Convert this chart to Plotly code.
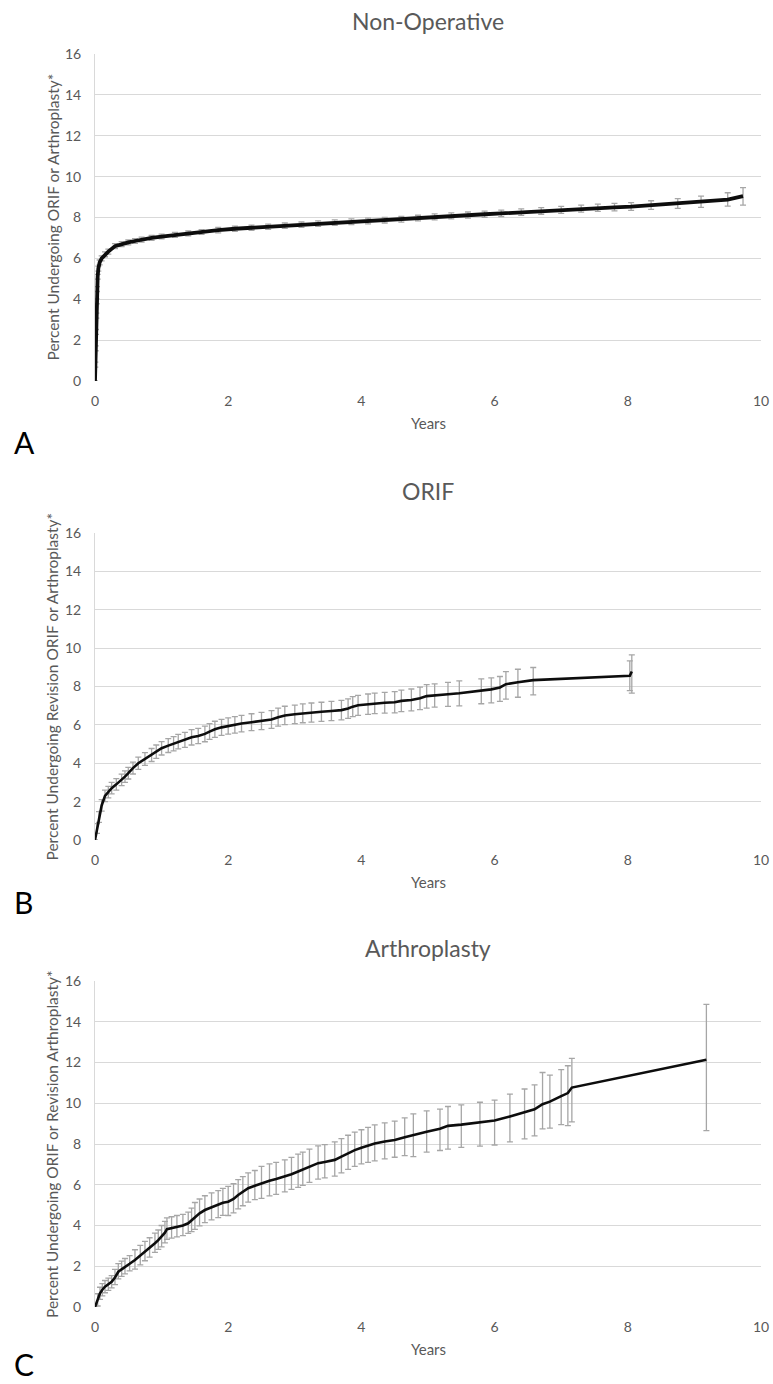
import plotly.graph_objects as go

# ---------------- Data ----------------
# Panel A: Non-Operative
a_years = [0.0, 0.005, 0.01, 0.015, 0.02, 0.025, 0.03, 0.04, 0.05, 0.07, 0.10, 0.15, 0.2, 0.3, 0.4,
           0.5, 0.6, 0.7, 0.85, 1.0, 1.2, 1.4, 1.6, 1.85, 2.1, 2.35, 2.6, 2.85, 3.1, 3.35, 3.6,
           3.85, 4.1, 4.35, 4.6, 4.85, 5.1, 5.35, 5.6, 5.85, 6.1, 6.4, 6.7, 7.0, 7.3, 7.55, 7.8,
           8.05, 8.35, 8.75, 9.1, 9.5, 9.73]
a_pct = [0.0, 0.8, 1.6, 2.4, 3.2, 3.9, 4.5, 5.1, 5.5, 5.8, 6.0, 6.2, 6.33, 6.6, 6.7,
         6.78, 6.85, 6.92, 7.0, 7.07, 7.15, 7.22, 7.29, 7.38, 7.45, 7.5, 7.55, 7.6, 7.65, 7.7, 7.75,
         7.79, 7.83, 7.87, 7.91, 7.97, 8.03, 8.08, 8.12, 8.16, 8.2, 8.26, 8.32, 8.37, 8.43, 8.47, 8.5,
         8.53, 8.6, 8.68, 8.77, 8.88, 9.05]
a_plus = [0.0, 0.12, 0.12, 0.12, 0.12, 0.12, 0.12, 0.12, 0.12, 0.12, 0.12, 0.12, 0.12, 0.12, 0.12,
          0.12, 0.12, 0.12, 0.12, 0.12, 0.12, 0.12, 0.12, 0.13, 0.13, 0.13, 0.13, 0.13, 0.13, 0.13, 0.13,
          0.14, 0.14, 0.14, 0.14, 0.14, 0.15, 0.15, 0.15, 0.15, 0.16, 0.16, 0.16, 0.17, 0.18, 0.18, 0.19,
          0.2, 0.22, 0.24, 0.28, 0.33, 0.41]
a_minus = [0.0, 0.12, 0.12, 0.12, 0.12, 0.12, 0.12, 0.12, 0.12, 0.12, 0.12, 0.12, 0.12, 0.12, 0.12,
           0.12, 0.12, 0.12, 0.12, 0.12, 0.12, 0.12, 0.12, 0.13, 0.13, 0.13, 0.13, 0.13, 0.13, 0.13, 0.13,
           0.14, 0.14, 0.14, 0.14, 0.14, 0.15, 0.15, 0.15, 0.15, 0.16, 0.16, 0.16, 0.17, 0.17, 0.17, 0.18,
           0.18, 0.2, 0.23, 0.27, 0.32, 0.44]

# Panel B: ORIF
b_years = [0.0, 0.03, 0.06, 0.1, 0.15, 0.2, 0.25, 0.32, 0.4, 0.45, 0.5, 0.57, 0.65, 0.75, 0.85,
           0.92, 1.0, 1.1, 1.18, 1.25, 1.35, 1.45, 1.55, 1.65, 1.72, 1.8, 1.9, 2.0, 2.1, 2.2,
           2.35, 2.5, 2.65, 2.75, 2.85, 3.0, 3.12, 3.25, 3.4, 3.55, 3.7, 3.8, 3.87, 3.95, 4.1,
           4.2, 4.35, 4.5, 4.6, 4.75, 4.88, 4.98, 5.1, 5.3, 5.47, 5.8, 5.95, 6.08, 6.17, 6.35,
           6.58, 8.03, 8.06]
b_pct = [0.0, 0.6, 1.2, 1.8, 2.3, 2.5, 2.7, 2.9, 3.13, 3.3, 3.48, 3.75, 4.0, 4.22, 4.43,
         4.6, 4.78, 4.92, 5.02, 5.13, 5.22, 5.35, 5.42, 5.53, 5.65, 5.77, 5.87, 5.94, 6.0, 6.07,
         6.14, 6.2, 6.28, 6.4, 6.49, 6.55, 6.6, 6.64, 6.68, 6.72, 6.77, 6.85, 6.95, 7.02, 7.08,
         7.12, 7.15, 7.18, 7.25, 7.3, 7.39, 7.5, 7.55, 7.6, 7.65, 7.78, 7.85, 7.95, 8.12, 8.22,
         8.33, 8.56, 8.78]
b_plus = [0.0, 0.25, 0.28, 0.3, 0.3, 0.3, 0.3, 0.3, 0.3, 0.3, 0.3, 0.31, 0.32, 0.33, 0.34,
          0.35, 0.35, 0.36, 0.37, 0.38, 0.39, 0.4, 0.4, 0.41, 0.41, 0.42, 0.42, 0.42, 0.43, 0.43,
          0.44, 0.45, 0.46, 0.47, 0.48, 0.48, 0.49, 0.5, 0.5, 0.5, 0.51, 0.51, 0.52, 0.52, 0.53,
          0.53, 0.54, 0.55, 0.56, 0.57, 0.58, 0.6, 0.59, 0.62, 0.64, 0.62, 0.6, 0.57, 0.66, 0.68,
          0.66, 0.78, 0.87]
b_minus = [0.0, 0.25, 0.28, 0.3, 0.3, 0.3, 0.3, 0.3, 0.3, 0.3, 0.3, 0.31, 0.32, 0.33, 0.34,
           0.35, 0.35, 0.36, 0.37, 0.38, 0.39, 0.4, 0.4, 0.41, 0.41, 0.42, 0.42, 0.42, 0.43, 0.43,
           0.44, 0.45, 0.46, 0.47, 0.48, 0.48, 0.49, 0.5, 0.5, 0.5, 0.51, 0.51, 0.52, 0.52, 0.53,
           0.53, 0.54, 0.55, 0.56, 0.57, 0.6, 0.63, 0.63, 0.64, 0.66, 0.68, 0.7, 0.73, 0.78, 0.78,
           0.77, 0.77, 1.13]

# Panel C: Arthroplasty
c_years = [0.0, 0.04, 0.075, 0.11, 0.15, 0.2, 0.25, 0.3, 0.35, 0.4, 0.45, 0.52, 0.6, 0.68, 0.75,
           0.82, 0.9, 0.95, 1.0, 1.05, 1.08, 1.15, 1.23, 1.32, 1.4, 1.45, 1.5, 1.57, 1.65, 1.75,
           1.85, 1.92, 2.0, 2.08, 2.15, 2.22, 2.3, 2.4, 2.5, 2.62, 2.72, 2.85, 2.95, 3.05, 3.12,
           3.22, 3.35, 3.45, 3.6, 3.7, 3.8, 3.9, 4.0, 4.1, 4.2, 4.35, 4.5, 4.65, 4.78, 4.98,
           5.18, 5.3, 5.5, 5.78, 6.0, 6.23, 6.45, 6.6, 6.72, 6.83, 7.0, 7.1, 7.16, 9.18]
c_pct = [0.0, 0.35, 0.67, 0.85, 1.0, 1.12, 1.24, 1.45, 1.73, 1.85, 1.98, 2.12, 2.31, 2.52, 2.72,
         2.9, 3.13, 3.28, 3.45, 3.65, 3.82, 3.88, 3.94, 4.0, 4.11, 4.25, 4.43, 4.6, 4.76, 4.9,
         5.01, 5.12, 5.17, 5.3, 5.5, 5.65, 5.83, 5.95, 6.08, 6.2, 6.28, 6.4, 6.52, 6.65, 6.75,
         6.9, 7.06, 7.12, 7.22, 7.38, 7.55, 7.7, 7.82, 7.92, 8.02, 8.12, 8.2, 8.33, 8.45, 8.6,
         8.75, 8.89, 8.95, 9.05, 9.15, 9.35, 9.55, 9.7, 9.95, 10.08, 10.35, 10.5, 10.77, 12.13]
c_plus = [0.0, 0.3, 0.3, 0.3, 0.3, 0.3, 0.3, 0.4, 0.4, 0.4, 0.4, 0.4, 0.5, 0.5, 0.5,
          0.5, 0.5, 0.5, 0.55, 0.55, 0.55, 0.55, 0.55, 0.55, 0.55, 0.6, 0.7, 0.7, 0.7, 0.7,
          0.7, 0.7, 0.75, 0.75, 0.75, 0.75, 0.75, 0.75, 0.82, 0.82, 0.82, 0.82, 0.82, 0.85, 0.85,
          0.85, 0.85, 0.85, 0.88, 0.88, 0.88, 0.88, 0.88, 0.9, 0.92, 0.92, 0.92, 0.95, 1.03, 1.03,
          0.96, 0.95, 0.97, 1.0, 1.0, 1.1, 1.15, 1.2, 1.56, 1.3, 1.3, 1.34, 1.43, 2.72]
c_minus = [0.0, 0.3, 0.3, 0.3, 0.3, 0.3, 0.3, 0.35, 0.35, 0.35, 0.35, 0.35, 0.45, 0.45, 0.45,
           0.45, 0.45, 0.45, 0.5, 0.5, 0.5, 0.5, 0.5, 0.5, 0.5, 0.55, 0.62, 0.62, 0.62, 0.62,
           0.62, 0.62, 0.68, 0.68, 0.68, 0.68, 0.68, 0.68, 0.75, 0.75, 0.75, 0.75, 0.75, 0.78, 0.78,
           0.78, 0.78, 0.78, 0.8, 0.8, 0.8, 0.8, 0.8, 0.82, 0.85, 0.85, 0.85, 0.9, 1.07, 1.0,
           1.07, 1.14, 1.12, 1.15, 1.2, 1.25, 1.3, 1.3, 1.21, 1.3, 1.4, 1.6, 1.68, 3.47]

titles = ["Non-Operative", "ORIF", "Arthroplasty"]
y_titles = ["Percent Undergoing ORIF or Arthroplasty*",
            "Percent Undergoing Revision ORIF or Arthroplasty*",
            "Percent Undergoing ORIF or Revision Arthroplasty*"]
panel_letters = ["A", "B", "C"]
x_ticks = [0, 2, 4, 6, 8, 10]
y_ticks = [0, 2, 4, 6, 8, 10, 12, 14, 16]

# ---------------- Layout geometry (pixels) ----------------
W, H = 773, 1384
plot_left, plot_right = 95, 761
panels = [  # (top px, bottom px)
    (54, 381),
    (533, 840),
    (981, 1307),
]
title_y = [21, 491, 948]
letter_y = [442, 902, 1364]
line_widths = [3.8, 2.6, 2.6]

FONT = "Lato"
GRAY = "#595959"

series = [
    (a_years, a_pct, a_plus, a_minus),
    (b_years, b_pct, b_plus, b_minus),
    (c_years, c_pct, c_plus, c_minus),
]


def px_x(p):
    return p / W


def px_y(p):
    return 1 - p / H


fig = go.Figure()
annotations = []
layout_axes = {}

for i, ((top, bot), (yrs, pct, plus, minus)) in enumerate(zip(panels, series)):
    n = "" if i == 0 else str(i + 1)
    xa, ya = "x" + n, "y" + n
    # error bars
    fig.add_trace(go.Scatter(
        x=yrs, y=pct, mode="markers", xaxis=xa, yaxis=ya,
        marker=dict(size=1, color="rgba(0,0,0,0)"),
        error_y=dict(type="data", symmetric=False, array=plus, arrayminus=minus,
                     color="#a6a6a6", thickness=1.3, width=3),
        showlegend=False, hoverinfo="skip"))
    # line
    fig.add_trace(go.Scatter(
        x=yrs, y=pct, mode="lines", xaxis=xa, yaxis=ya,
        line=dict(color="#0d0d0d", width=line_widths[i]),
        showlegend=False))

    layout_axes["xaxis" + n] = dict(
        domain=[px_x(plot_left), px_x(plot_right)], anchor=ya, range=[0, 10],
        tickvals=x_ticks, showgrid=False, zeroline=False, showline=False,
        ticks="outside", ticklen=7, tickcolor="rgba(0,0,0,0)", automargin=False,
        tickfont=dict(family=FONT, size=14, color=GRAY))
    layout_axes["yaxis" + n] = dict(
        domain=[px_y(bot), px_y(top)], anchor=xa, range=[0, 16],
        tickvals=y_ticks, showgrid=True, gridcolor="#d9d9d9", gridwidth=1,
        zeroline=False, showline=True, linecolor="#d9d9d9", linewidth=1,
        ticks="outside", ticklen=10, tickcolor="rgba(0,0,0,0)", automargin=False,
        tickfont=dict(family=FONT, size=14, color=GRAY))

    cx = (plot_left + plot_right) / 2
    annotations.append(dict(text=titles[i], x=px_x(cx), y=px_y(title_y[i]), xref="paper", yref="paper",
                            xanchor="center", yanchor="middle", showarrow=False,
                            font=dict(family=FONT, size=23, color=GRAY)))
    annotations.append(dict(text=y_titles[i], x=px_x(52), y=px_y((top + bot) / 2), xref="paper", yref="paper",
                            xanchor="center", yanchor="middle", showarrow=False, textangle=-90,
                            font=dict(family=FONT, size=15.5, color=GRAY)))
    annotations.append(dict(text="Years", x=px_x(cx), y=px_y(bot + 42), xref="paper", yref="paper",
                            xanchor="center", yanchor="middle", showarrow=False,
                            font=dict(family=FONT, size=15, color=GRAY)))
    annotations.append(dict(text=panel_letters[i], x=px_x(12), y=px_y(letter_y[i]), xref="paper", yref="paper",
                            xanchor="left", yanchor="middle", showarrow=False,
                            font=dict(family=FONT, size=30, color="#000000")))

fig.update_layout(
    width=W, height=H, margin=dict(l=0, r=0, t=0, b=0, pad=0),
    paper_bgcolor="white", plot_bgcolor="white",
    annotations=annotations, showlegend=False, **layout_axes)

fig.write_html(
    "out.html",
    config={"displayModeBar": False},
    post_script="document.body.style.margin='0';document.body.style.overflow='hidden';"
                "document.documentElement.style.overflow='hidden';")
